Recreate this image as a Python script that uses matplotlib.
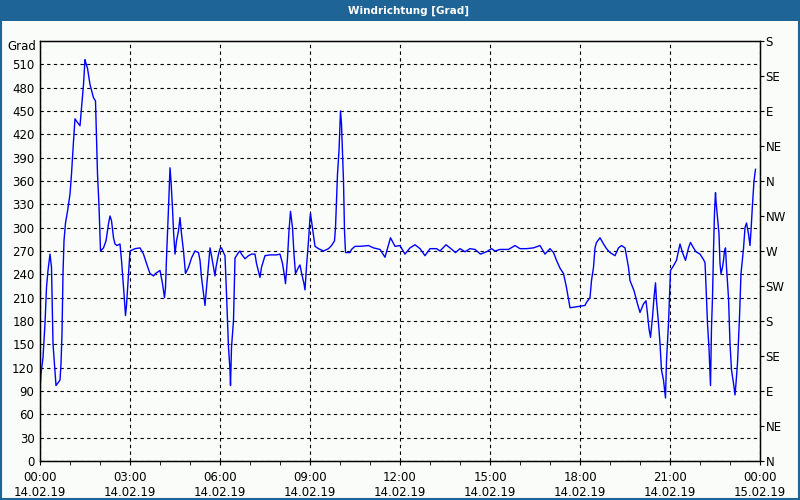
import matplotlib.pyplot as plt
from matplotlib.patches import Rectangle
from matplotlib.ticker import MultipleLocator

# Minuten ab 14.02.19 00:00
minuten = [0, 2, 6, 10, 13, 16, 20, 23, 26, 30, 32, 40, 42, 44, 46, 48, 51, 55, 58, 60,
           63, 65, 67, 70, 73, 80, 83, 87, 90, 92, 95, 100, 107, 111, 115, 118, 121, 127, 132, 137,
           140, 143, 147, 150, 154, 160, 163, 168, 171, 173, 177, 180, 190, 200, 207, 213, 220, 227, 231, 240,
           245, 249, 251, 253, 257, 260, 262, 265, 267, 270, 273, 277, 280, 283, 287, 291, 297, 303, 310, 317,
           320, 323, 327, 330, 332, 335, 340, 343, 347, 350, 352, 357, 360, 363, 367, 370, 373, 377, 380, 381,
           383, 387, 390, 397, 400, 403, 410, 417, 423, 430, 433, 440, 443, 450, 460, 473, 480, 485, 489, 491,
           495, 498, 501, 505, 508, 511, 517, 520, 523, 528, 530, 533, 537, 540, 541, 545, 547, 550, 557, 567,
           577, 583, 589, 591, 595, 598, 600, 601, 603, 607, 609, 611, 620, 623, 630, 640, 657, 667, 680, 690,
           701, 710, 720, 730, 740, 750, 760, 770, 780, 793, 800, 812, 820, 831, 840, 850, 860, 870, 881, 893,
           903, 910, 920, 937, 950, 960, 973, 987, 1000, 1010, 1020, 1027, 1033, 1040, 1047, 1053, 1060, 1070, 1080, 1090,
           1093, 1100, 1103, 1107, 1110, 1113, 1120, 1127, 1133, 1140, 1150, 1157, 1163, 1170, 1177, 1180, 1188, 1195, 1200, 1207,
           1212, 1215, 1218, 1221, 1225, 1228, 1231, 1233, 1237, 1240, 1243, 1247, 1250, 1251, 1253, 1257, 1260, 1261, 1267, 1273,
           1280, 1285, 1291, 1297, 1301, 1307, 1312, 1320, 1327, 1330, 1331, 1335, 1338, 1340, 1341, 1343, 1345, 1347, 1349, 1351,
           1352, 1355, 1358, 1360, 1362, 1365, 1367, 1369, 1371, 1373, 1377, 1380, 1383, 1387, 1390, 1392, 1395, 1399, 1402, 1407,
           1410, 1413, 1417, 1420, 1422, 1425, 1428, 1431]
# Windrichtung in Grad
grad = [91, 112, 133, 177, 223, 245, 266, 249, 151, 114, 97, 104, 125, 164, 241, 283, 306, 321, 334, 343,
        369, 390, 411, 440, 437, 431, 454, 484, 516, 511, 505, 484, 467, 463, 369, 328, 270, 274, 283, 305,
        315, 309, 287, 279, 277, 279, 258, 215, 187, 200, 241, 270, 273, 274, 266, 254, 241, 238, 241, 245,
        228, 210, 223, 261, 325, 377, 360, 325, 296, 266, 283, 296, 313, 292, 270, 241, 249, 261, 270, 268,
        258, 236, 215, 200, 215, 236, 274, 264, 249, 238, 249, 266, 273, 274, 268, 264, 215, 146, 117, 97,
        146, 181, 261, 268, 270, 266, 260, 264, 266, 266, 254, 236, 249, 264, 265, 265, 266, 254, 238, 228,
        261, 296, 321, 300, 266, 241, 249, 252, 242, 228, 220, 250, 283, 313, 318, 300, 290, 276, 273, 270,
        273, 277, 283, 300, 369, 399, 433, 450, 433, 360, 296, 268, 268, 272, 276, 276, 277, 274, 272, 262,
        287, 276, 277, 266, 274, 278, 273, 264, 273, 273, 270, 278, 274, 268, 273, 269, 273, 272, 266, 269,
        273, 270, 272, 272, 277, 273, 273, 274, 277, 266, 273, 268, 258, 248, 241, 223, 197, 198, 199, 200,
        204, 210, 232, 249, 274, 281, 287, 279, 273, 268, 264, 274, 277, 274, 249, 232, 219, 202, 191, 202,
        206, 189, 170, 159, 185, 210, 229, 206, 177, 151, 117, 104, 87, 81, 129, 177, 228, 245, 251, 258,
        279, 268, 258, 274, 281, 274, 269, 266, 259, 255, 241, 177, 145, 114, 97, 172, 210, 270, 319, 345,
        334, 313, 292, 254, 241, 249, 258, 270, 274, 249, 210, 151, 117, 100, 85, 100, 126, 185, 241, 273,
        300, 306, 292, 277, 296, 330, 360, 375]

y_ticks = list(range(0, 540, 30))
x_ticks = [0, 3, 6, 9, 12, 15, 18, 21, 24]
x_labels = ['00:00\n14.02.19', '03:00\n14.02.19', '06:00\n14.02.19', '09:00\n14.02.19',
            '12:00\n14.02.19', '15:00\n14.02.19', '18:00\n14.02.19', '21:00\n14.02.19',
            '00:00\n15.02.19']
richtung_pos = [0, 45, 90, 135, 180, 225, 270, 315, 360, 405, 450, 495, 540]
richtung = ['N', 'NE', 'E', 'SE', 'S', 'SW', 'W', 'NW', 'N', 'NE', 'E', 'SE', 'S']

blau = '#1E6496'
hinter = '#F9FCF9'

fig = plt.figure(figsize=(8, 5), dpi=100, facecolor=hinter)
# Titelleiste und Rahmen
fig.patches.append(Rectangle((0, 1 - 21 / 500), 1, 21 / 500, transform=fig.transFigure,
                             facecolor=blau, edgecolor='none', zorder=0))
fig.patches.append(Rectangle((0.001, 0.002), 0.998, 0.997, transform=fig.transFigure,
                             facecolor='none', edgecolor=blau, linewidth=1.5, zorder=1))
fig.text(0.51, 1 - 10.5 / 500, 'Windrichtung [Grad]', color='white', fontsize=7.5,
         fontweight='bold', ha='center', va='center')

ax = fig.add_axes([40 / 800, 39 / 500, 720 / 800, 420 / 500])
ax.set_facecolor(hinter)
stunden = [m / 60 for m in minuten]
ax.plot(stunden, grad, color='#0000FF', linewidth=1.0, zorder=3)

ax.set_xlim(0, 24)
ax.set_ylim(0, 540)
ax.set_yticks(y_ticks)
ax.set_xticks(x_ticks)
ax.set_xticklabels(x_labels)
ax.xaxis.set_minor_locator(MultipleLocator(1))
ax.tick_params(axis='y', length=0, pad=4, labelsize=8.5)
ax.tick_params(axis='x', which='both', length=3, direction='out', pad=4, labelsize=8.5)
ax.grid(True, color='black', linestyle=(0, (3, 3)), linewidth=0.8)
for s in ax.spines.values():
    s.set_linewidth(1.0)

ax2 = ax.twinx()
ax2.set_ylim(0, 540)
ax2.set_yticks(richtung_pos)
ax2.set_yticklabels(richtung)
ax2.tick_params(axis='y', length=3, direction='out', pad=1, labelsize=8.5)

fig.text(36 / 800, 1 - 46 / 500, 'Grad', fontsize=8.5, ha='right', va='center')

plt.savefig('out.png', dpi=100, facecolor=hinter)
